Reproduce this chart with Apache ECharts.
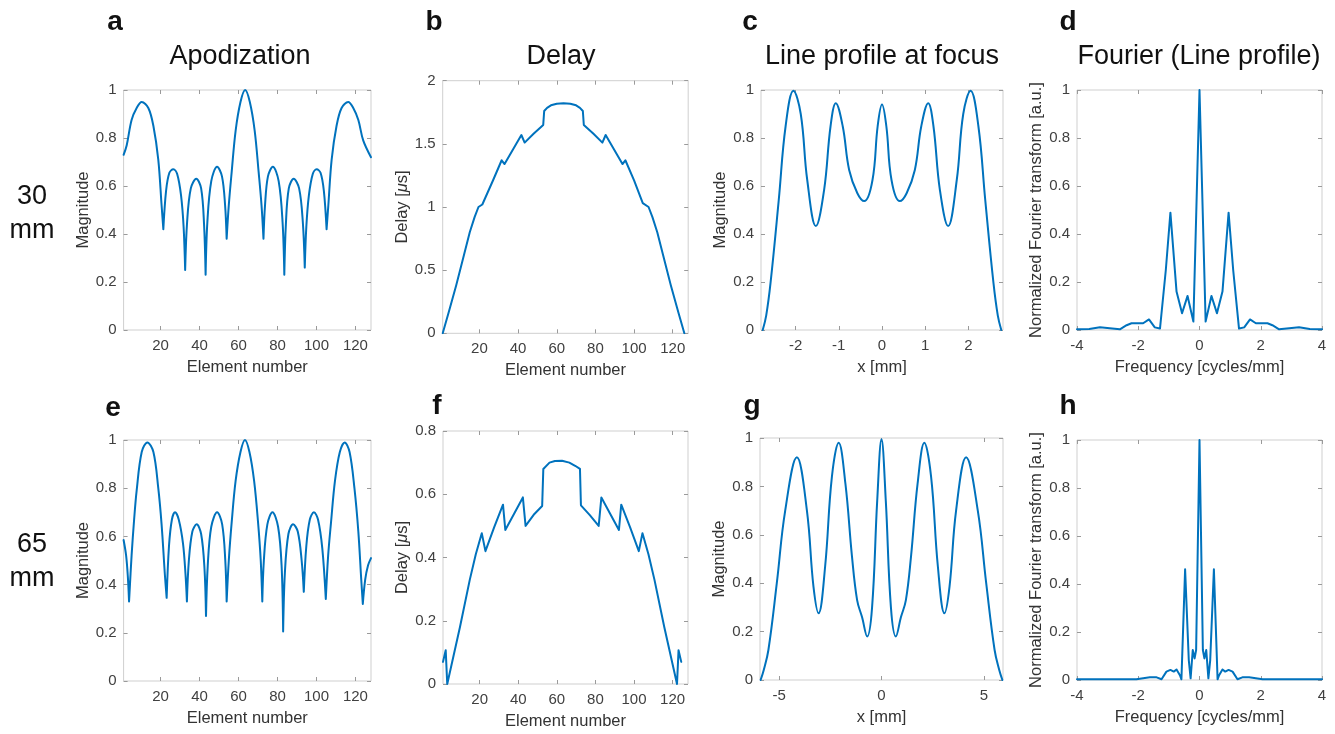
<!DOCTYPE html>
<html>
<head>
<meta charset="utf-8">
<script src="https://cdn.jsdelivr.net/npm/echarts@6/dist/echarts.min.js"></script>
<style>
html, body { margin: 0; padding: 0; background: #fff; }
#chart { width: 1335px; height: 734px; }
</style>
</head>
<body>
<div id="chart"></div>
<script>
// tick labels
const elemTicks = [20, 40, 60, 80, 100, 120];
const lpTicks30 = [-2, -1, 0, 1, 2];
const lpTicks65 = [-5, 0, 5];
const freqTicks = [-4, -2, 0, 2, 4];

// a: apodization 30 mm (null = cusp break between lobes)
const apoA_x = [1, 2.6, 5.1, 7.7, 10.3, 13.7, 16.3, 18.8, 20.5, 21.4, null,
  21.4, 22.8, 24.5, 26.5, 28.5, 30.5, 31.8, 32.6, null,
  32.6, 33.6, 35.5, 38.3, 40.8, 42.3, 43.1, null,
  43.1, 44, 46, 49, 51.5, 53.1, 53.9, null,
  53.9, 55, 56.5, 58.5, 61, 63.4, 65.8, 68.3, 70.3, 71.8, 72.8, null,
  72.8, 73.6, 75.1, 77.6, 80.6, 82.6, 83.5, null,
  83.5, 84.3, 85.8, 88.3, 91.1, 93, 94, null,
  94, 94.8, 96.1, 98.1, 100.1, 102.1, 103.8, 105.2, null,
  105.2, 106.1, 107.8, 110.3, 112.9, 116.3, 118.9, 121.5, 124, 128];
const apoA_y = [0.73, 0.77, 0.875, 0.925, 0.95, 0.925, 0.85, 0.71, 0.52, 0.42, null,
  0.42, 0.58, 0.655, 0.67, 0.65, 0.56, 0.43, 0.25, null,
  0.25, 0.45, 0.59, 0.63, 0.59, 0.44, 0.23, null,
  0.23, 0.45, 0.62, 0.68, 0.64, 0.52, 0.38, null,
  0.38, 0.52, 0.66, 0.83, 0.95, 1.0, 0.95, 0.83, 0.66, 0.52, 0.38, null,
  0.38, 0.52, 0.64, 0.68, 0.62, 0.45, 0.23, null,
  0.23, 0.44, 0.59, 0.63, 0.59, 0.45, 0.26, null,
  0.26, 0.43, 0.56, 0.65, 0.67, 0.655, 0.58, 0.42, null,
  0.42, 0.52, 0.71, 0.85, 0.925, 0.95, 0.925, 0.875, 0.79, 0.72];

// e: apodization 65 mm
const apoE_x = [1, 2.3, 3.2, 3.8, null,
  3.8, 5.1, 6.4, 7.7, 10.3, 13.2, 16.3, 18.8, 20.5, 22.2, 23.1, null,
  23.1, 24.3, 25.8, 27.4, 29.3, 31.5, 32.8, 33.5, null,
  33.5, 34.5, 36.3, 38.5, 40.8, 42.5, 43.3, null,
  43.3, 44.2, 46, 49, 51.6, 53.2, 53.9, null,
  53.9, 55, 56.5, 58.5, 61, 63.3, 65.6, 68, 70, 71.4, 72.2, null,
  72.2, 73, 74.8, 77.4, 80.3, 82.1, 82.9, null,
  82.9, 83.8, 85.6, 88, 90.4, 92.4, 93.5, null,
  93.5, 94.8, 96.6, 98.7, 100.8, 103, 104.8, null,
  104.8, 106, 107.5, 109.5, 112, 114.5, 117, 119.5, 121.5, 123, 123.8, null,
  123.8, 125, 126.5, 128];
const apoE_y = [0.585, 0.52, 0.43, 0.33, null,
  0.33, 0.52, 0.67, 0.79, 0.95, 0.99, 0.95, 0.80, 0.65, 0.44, 0.345, null,
  0.345, 0.56, 0.67, 0.70, 0.67, 0.57, 0.44, 0.33, null,
  0.33, 0.5, 0.62, 0.65, 0.61, 0.47, 0.27, null,
  0.27, 0.48, 0.64, 0.70, 0.65, 0.5, 0.33, null,
  0.33, 0.5, 0.66, 0.83, 0.95, 1.0, 0.95, 0.83, 0.66, 0.5, 0.33, null,
  0.33, 0.5, 0.65, 0.70, 0.64, 0.48, 0.205, null,
  0.205, 0.45, 0.61, 0.65, 0.62, 0.5, 0.37, null,
  0.37, 0.56, 0.67, 0.70, 0.67, 0.55, 0.34, null,
  0.34, 0.52, 0.66, 0.83, 0.95, 0.99, 0.95, 0.80, 0.62, 0.42, 0.32, null,
  0.32, 0.42, 0.48, 0.51];

// b: delay 30 mm
const delB_x = [1, 4, 8, 12, 15, 17.5, 19.5, 21.5, 22.5, 27, 31.5, 33, 37.5, 41.7, 43.4, 48, 53, 53.5,
  55, 57, 60, 63.5, 67, 70, 72, 73.5, 74, 79, 83.6, 85.3, 89.5, 94, 95.5, 100, 104.5, 105.5,
  107.5, 109.5, 112, 115, 119, 123, 126];
const delB_y = [0, 0.16, 0.38, 0.62, 0.80, 0.92, 1.0, 1.02, 1.03, 1.21, 1.37, 1.34, 1.46, 1.57, 1.51, 1.58, 1.65, 1.76,
  1.785, 1.805, 1.818, 1.822, 1.818, 1.805, 1.785, 1.76, 1.65, 1.58, 1.51, 1.57, 1.46, 1.34, 1.37, 1.21, 1.03, 1.02,
  1.0, 0.92, 0.80, 0.62, 0.38, 0.16, 0];

// f: delay 65 mm
const delF_x = [1, 2.4, 3.2, 9.8, 14.9, 18, 21.1, 23, 27.5, 32.1, 33.3, 38, 42.4, 43.8, 48, 52.4, 53,
  56.2, 59, 62.7, 66.5, 69.5, 72, 72.5, 77, 81.7, 83.1, 87.5, 92.2, 93.4, 98, 102.5, 104.4,
  107.5, 110.6, 115.7, 122.3, 123.1, 124.5];
const delF_y = [0.07, 0.107, 0, 0.18, 0.33, 0.41, 0.477, 0.42, 0.495, 0.567, 0.487, 0.54, 0.59, 0.50, 0.535, 0.563, 0.68,
  0.70, 0.705, 0.706, 0.70, 0.69, 0.68, 0.565, 0.535, 0.50, 0.59, 0.54, 0.487, 0.567, 0.495, 0.42, 0.477,
  0.41, 0.33, 0.18, 0, 0.107, 0.07];

// c: line profile 30 mm
const lpC_x = [-2.76, -2.68, -2.58, -2.39, -2.23, -2.05, -1.88, -1.73, -1.53, -1.34, -1.19, -1.07, -0.91, -0.76,
  -0.57, -0.41, -0.22, -0.1, 0, 0.1, 0.22, 0.41, 0.57, 0.76, 0.91, 1.07, 1.19, 1.34, 1.53, 1.73, 1.88, 2.05,
  2.23, 2.39, 2.58, 2.68, 2.76];
const lpC_y = [0, 0.06, 0.195, 0.54, 0.85, 0.997, 0.90, 0.625, 0.433, 0.583, 0.85, 0.945, 0.85, 0.667,
  0.57, 0.537, 0.625, 0.85, 0.94, 0.85, 0.625, 0.537, 0.57, 0.667, 0.85, 0.945, 0.85, 0.583, 0.433, 0.625, 0.90, 0.997,
  0.85, 0.54, 0.195, 0.06, 0];

// g: line profile 65 mm
const lpG_x = [-5.9, -5.75, -5.52, -5.11, -4.7, -4.13, -3.64, -3.32, -3.07, -2.75, -2.42, -2.09, -1.76, -1.44,
  -1.19, -0.95, -0.7, -0.46, -0.21, 0, 0.21, 0.46, 0.7, 0.95, 1.19, 1.44, 1.76, 2.09, 2.42, 2.75, 3.07, 3.32,
  3.64, 4.13, 4.7, 5.11, 5.52, 5.75, 5.9];
const lpG_y = [0, 0.04, 0.124, 0.40, 0.70, 0.92, 0.70, 0.386, 0.276, 0.47, 0.84, 0.98, 0.81, 0.51,
  0.33, 0.26, 0.18, 0.30, 0.74, 0.995, 0.74, 0.30, 0.18, 0.26, 0.33, 0.51, 0.81, 0.98, 0.84, 0.47, 0.276, 0.386,
  0.70, 0.92, 0.70, 0.40, 0.124, 0.04, 0];

// d: Fourier of line profile 30 mm
const fftD_x = [-4, -3.6, -3.25, -2.93, -2.6, -2.38, -2.22, -1.84, -1.65, -1.46, -1.29, -1.1, -0.95, -0.75,
  -0.57, -0.39, -0.2, 0, 0.2, 0.39, 0.57, 0.75, 0.95, 1.1, 1.29, 1.46, 1.65, 1.84, 2.22, 2.38, 2.6, 2.93,
  3.25, 3.6, 4];
const fftD_y = [0.003, 0.004, 0.011, 0.007, 0.003, 0.02, 0.028, 0.028, 0.044, 0.011, 0.006, 0.25, 0.489, 0.16,
  0.07, 0.142, 0.035, 1.0, 0.035, 0.142, 0.07, 0.16, 0.489, 0.25, 0.006, 0.011, 0.044, 0.028, 0.028, 0.02, 0.003, 0.007,
  0.011, 0.004, 0.003];

// h: Fourier of line profile 65 mm
const fftH_x = [-4, -2.06, -1.62, -1.4, -1.24, -1.08, -0.95, -0.84, -0.75, -0.64, -0.59, -0.47, -0.35, -0.29,
  -0.22, -0.16, -0.11, 0, 0.11, 0.16, 0.22, 0.29, 0.35, 0.47, 0.59, 0.64, 0.75, 0.84, 0.95, 1.08, 1.24, 1.4,
  1.62, 2.06, 4];
const fftH_y = [0.003, 0.003, 0.011, 0.011, 0.003, 0.035, 0.042, 0.035, 0.044, 0.02, 0.003, 0.461, 0.083, 0.007,
  0.125, 0.09, 0.125, 1.0, 0.125, 0.09, 0.125, 0.007, 0.083, 0.461, 0.003, 0.02, 0.044, 0.035, 0.042, 0.035, 0.003, 0.011,
  0.011, 0.003, 0.003];

const FONT = "'Liberation Sans', Arial, Helvetica, sans-serif";
const BLUE = '#0072BD';
const TXT = '#404040';

function pairs(xs, ys) {
  return xs.map((x, i) => [x, ys[i]]);
}

const panels = [
  { box: [123.6, 90, 247.4, 240], x: [1, 128, elemTicks, 'Element number'], y: [0, 1, 0.2, 'Magnitude'], data: pairs(apoA_x, apoA_y), smooth: 0.35 },
  { box: [442.7, 80.7, 245.5, 252.6], x: [1, 128, elemTicks, 'Element number'], y: [0, 2, 0.5, 'Delay [{it|μ}s]'], data: pairs(delB_x, delB_y), smooth: false },
  { box: [761, 90, 242, 240], x: [-2.8, 2.8, lpTicks30, 'x [mm]'], y: [0, 1, 0.2, 'Magnitude'], data: pairs(lpC_x, lpC_y), smooth: 0.4 },
  { box: [1077, 90, 245, 240], x: [-4, 4, freqTicks, 'Frequency [cycles/mm]'], y: [0, 1, 0.2, 'Normalized Fourier transform [a.u.]'], data: pairs(fftD_x, fftD_y), smooth: false },
  { box: [123.6, 440, 247.4, 241], x: [1, 128, elemTicks, 'Element number'], y: [0, 1, 0.2, 'Magnitude'], data: pairs(apoE_x, apoE_y), smooth: 0.35 },
  { box: [443, 431, 245, 253], x: [1, 128, elemTicks, 'Element number'], y: [0, 0.8, 0.2, 'Delay [{it|μ}s]'], data: pairs(delF_x, delF_y), smooth: false },
  { box: [760, 438, 243, 242], x: [-5.93, 5.93, lpTicks65, 'x [mm]'], y: [0, 1, 0.2, 'Magnitude'], data: pairs(lpG_x, lpG_y), smooth: 0.4 },
  { box: [1077, 440, 245, 240], x: [-4, 4, freqTicks, 'Frequency [cycles/mm]'], y: [0, 1, 0.2, 'Normalized Fourier transform [a.u.]'], data: pairs(fftH_x, fftH_y), smooth: false }
];

const grid = [], xAxis = [], yAxis = [], series = [];
const tick = { show: true, inside: true, length: 4, lineStyle: { color: '#9a9a9a', width: 1 } };
const noLine = { show: false, onZero: false };
const nameStyle = {
  color: '#333', fontSize: 16.5, fontFamily: FONT,
  rich: { it: { fontStyle: 'italic', color: '#333', fontSize: 16.5, fontFamily: FONT } }
};
const tickLabel = { color: TXT, fontSize: 15, fontFamily: FONT };

panels.forEach((p, i) => {
  const [l, t, w, h] = p.box;
  grid.push({ left: l, top: t, width: w, height: h, show: true, borderColor: '#cfcfcf', borderWidth: 1, containLabel: false });
  const [xmin, xmax, xt, xname] = p.x;
  xAxis.push({
    type: 'value', gridIndex: i, min: xmin, max: xmax, position: 'bottom',
    name: xname, nameLocation: 'middle', nameGap: 29, nameTextStyle: nameStyle,
    axisLine: noLine, splitLine: { show: false },
    axisTick: Object.assign({ customValues: xt }, tick),
    axisLabel: Object.assign({ customValues: xt, margin: 8 }, tickLabel)
  });
  xAxis.push({
    type: 'value', gridIndex: i, min: xmin, max: xmax, position: 'top',
    axisLine: noLine, splitLine: { show: false },
    axisTick: Object.assign({ customValues: xt }, tick),
    axisLabel: { show: false }
  });
  const [ymin, ymax, yint, yname] = p.y;
  yAxis.push({
    type: 'value', gridIndex: i, min: ymin, max: ymax, interval: yint, position: 'left',
    name: yname, nameLocation: 'middle', nameGap: 30, nameTextStyle: nameStyle,
    axisLine: noLine, splitLine: { show: false },
    axisTick: tick,
    axisLabel: Object.assign({ margin: 7 }, tickLabel)
  });
  yAxis.push({
    type: 'value', gridIndex: i, min: ymin, max: ymax, interval: yint, position: 'right',
    axisLine: noLine, splitLine: { show: false },
    axisTick: tick, axisLabel: { show: false }
  });
  series.push({
    type: 'line', xAxisIndex: 2 * i, yAxisIndex: 2 * i, data: p.data,
    smooth: p.smooth, showSymbol: false, symbol: 'none', connectNulls: false,
    lineStyle: { color: BLUE, width: 2, cap: 'round', join: 'round' }
  });
});

function label(text, x, y, size, weight) {
  return {
    type: 'text', x: x, y: y,
    style: { text: text, fill: '#111', font: (weight || 'normal') + ' ' + size + 'px ' + FONT, textAlign: 'center', textVerticalAlign: 'middle' }
  };
}

const graphic = [
  label('a', 115, 22, 28, 'bold'), label('b', 434, 22, 28, 'bold'),
  label('c', 750, 22, 28, 'bold'), label('d', 1068, 22, 28, 'bold'),
  label('e', 113, 408, 28, 'bold'), label('f', 437, 406, 28, 'bold'),
  label('g', 752, 406, 28, 'bold'), label('h', 1068, 406, 28, 'bold'),
  label('Apodization', 240, 57, 27), label('Delay', 561, 57, 27),
  label('Line profile at focus', 882, 57, 27), label('Fourier (Line profile)', 1199, 57, 27),
  label('30', 32, 197, 27), label('mm', 32, 231, 27),
  label('65', 32, 545, 27), label('mm', 32, 579, 27)
];

const chart = echarts.init(document.getElementById('chart'));
chart.setOption({
  animation: false,
  backgroundColor: '#fff',
  grid: grid, xAxis: xAxis, yAxis: yAxis, series: series,
  graphic: graphic
});
</script>
</body>
</html>
